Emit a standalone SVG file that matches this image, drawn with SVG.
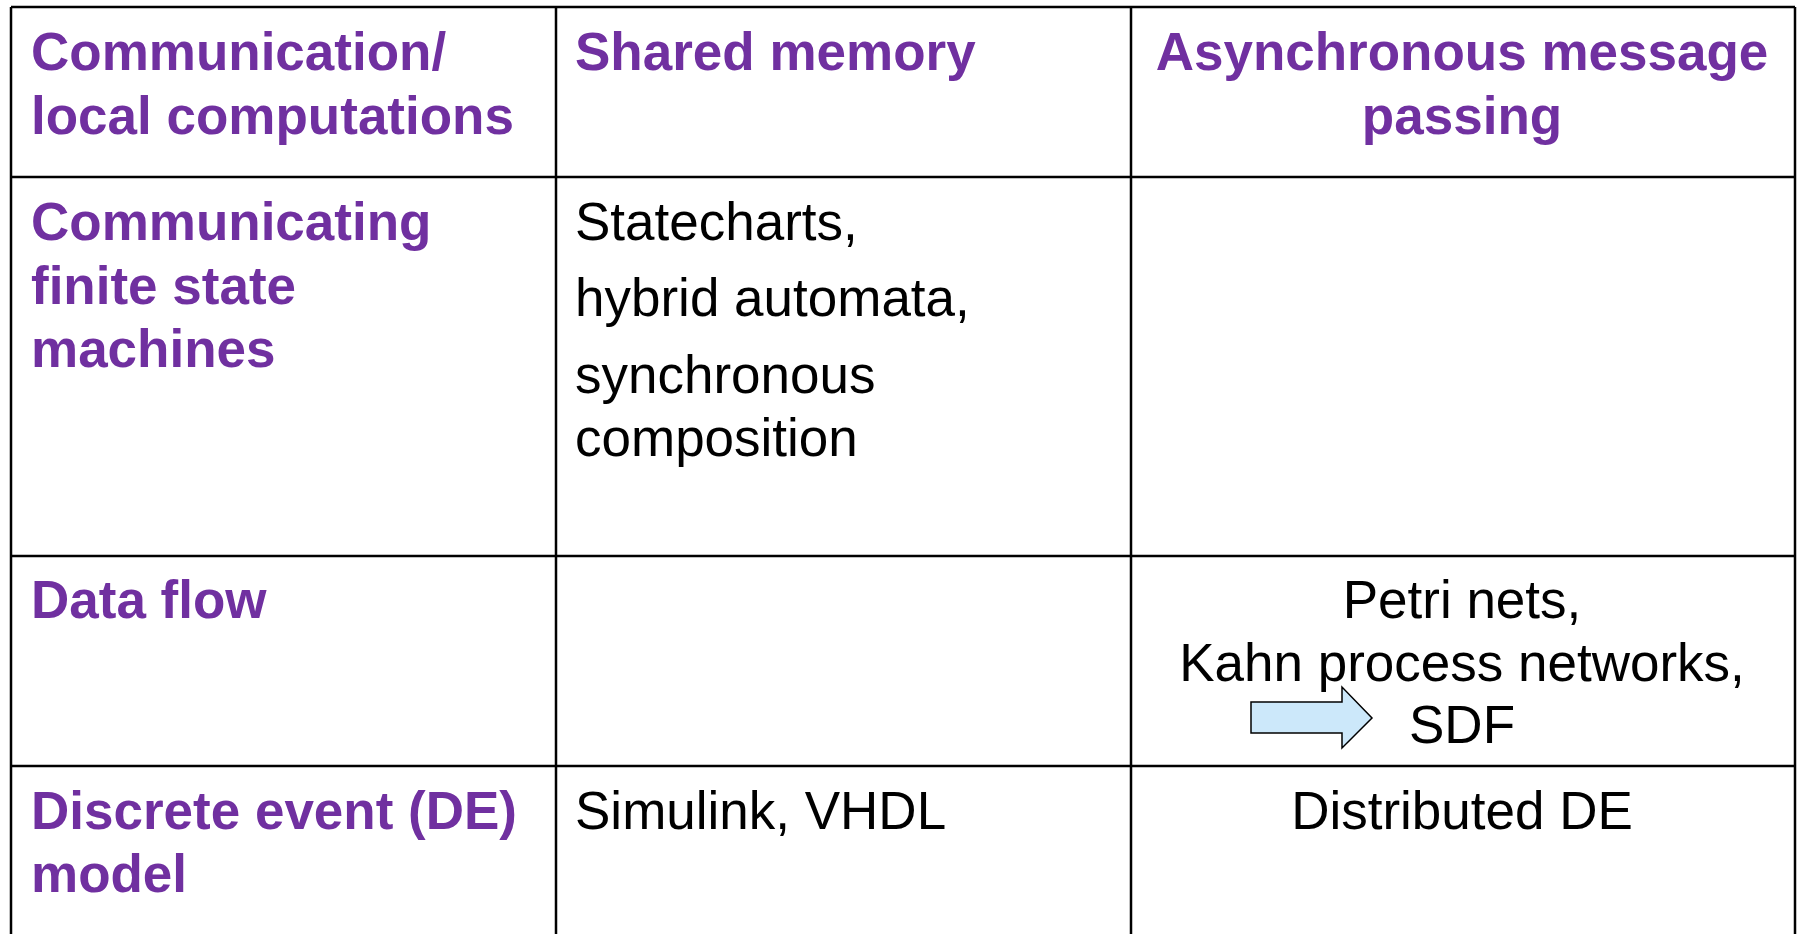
<svg xmlns="http://www.w3.org/2000/svg" width="1800" height="934" viewBox="0 0 1800 934">
<style>
.h{font-family:"Liberation Sans",Arial,sans-serif;font-weight:bold;font-size:53px;fill:#7030A0}
.t{font-family:"Liberation Sans",Arial,sans-serif;font-size:53px;fill:#000}
.c{text-anchor:middle}
.g{stroke:#000;stroke-width:2.5;fill:none}
</style>
<rect width="1800" height="934" fill="#fff"/>
<g id="grid">
<path class="g" d="M11 7H1795M11 177H1795M11 556H1795M11 766H1795M11 7V934M556 7V934M1131 7V934M1795 7V934"/>
</g>
<g id="hdr1"><text class="h" x="31" y="70">Communication/</text><text class="h" x="31" y="134">local computations</text></g>
<g id="hdr2"><text class="h" x="575" y="70">Shared memory</text></g>
<g id="hdr3"><text class="h c" x="1462" y="70">Asynchronous message</text><text class="h c" x="1462" y="134">passing</text></g>
<g id="row1"><text class="h" x="31" y="240">Communicating</text><text class="h" x="31" y="304">finite state</text><text class="h" x="31" y="367">machines</text></g>
<g id="c21"><text class="t" x="575" y="240">Statecharts,</text><text class="t" x="575" y="316">hybrid automata,</text><text class="t" x="575" y="393">synchronous</text><text class="t" x="575" y="456">composition</text></g>
<g id="row2"><text class="h" x="31" y="618">Data flow</text></g>
<g id="c32"><text class="t c" x="1462" y="618">Petri nets,</text><text class="t c" x="1462" y="681">Kahn process networks,</text><text class="t c" x="1462" y="743">SDF</text></g>
<g id="arrow"><path d="M1251 702H1342V687L1372 718L1342 748V733H1251Z" fill="#CCE8FA" stroke="#000" stroke-width="1.5"/></g>
<g id="row3"><text class="h" x="31" y="829">Discrete event (DE)</text><text class="h" x="31" y="892">model</text></g>
<g id="c42"><text class="t" x="575" y="829">Simulink, VHDL</text></g>
<g id="c43"><text class="t c" x="1462" y="829">Distributed DE</text></g>
</svg>
